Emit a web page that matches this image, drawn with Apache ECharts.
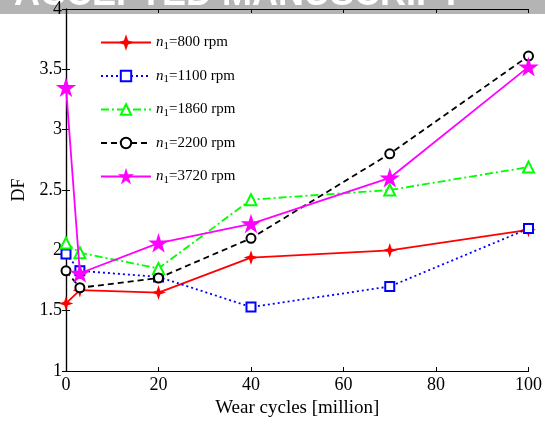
<!DOCTYPE html>
<html>
<head>
<meta charset="utf-8">
<script src="https://cdn.jsdelivr.net/npm/echarts@6/dist/echarts.min.js"></script>
<style>
  html, body { margin: 0; padding: 0; background: #fff; }
  #chart { width: 545px; height: 425px; }
</style>
</head>
<body>
<div id="chart"></div>
<script>
// Wear cycles (million) at which the damping factor was measured
var wearCycles = [0, 3, 20, 40, 70, 100];

// Damping factor per input speed
var df800  = [1.56, 1.67, 1.65, 1.94, 2.00, 2.17];
var df1100 = [1.97, 1.83, 1.78, 1.53, 1.70, 2.18];
var df1860 = [2.06, 1.98, 1.85, 2.42, 2.50, 2.69];
var df2200 = [1.83, 1.69, 1.77, 2.10, 2.80, 3.61];
var df3720 = [3.35, 1.81, 2.06, 2.22, 2.60, 3.52];

var speeds = ['800', '1100', '1860', '2200', '3720'];
var xTicks = [0, 20, 40, 60, 80, 100];
var yTicks = [1, 1.5, 2, 2.5, 3, 3.5, 4];

var serif = '"Liberation Serif", "DejaVu Serif", serif';

var starPath = 'path://M50,0 L61,35 L98,35 L68,57 L79,91 L50,70 L21,91 L32,57 L2,35 L39,35 Z';
var sparkPath = 'path://M0,-10 L2.5,-2.5 L10,0 L2.5,2.5 L0,10 L-2.5,2.5 L-10,0 L-2.5,-2.5 Z';

function pairs(ys) {
  return wearCycles.map(function (x, i) { return [x, ys[i]]; });
}

function seriesName(s) { return 'n1=' + s + ' rpm'; }

var defs = [
  { data: df800,  color: '#ff0000', type: 'solid',        symbol: sparkPath,       size: 9 },
  { data: df1100, color: '#0000ff', type: [2, 3],         symbol: 'emptyRect',     size: 9 },
  { data: df1860, color: '#00ff00', type: [8, 3, 2, 3],   symbol: 'emptyTriangle', size: 11 },
  { data: df2200, color: '#000000', type: [6, 4],         symbol: 'emptyCircle',   size: 9 },
  { data: df3720, color: '#ff00ff', type: 'solid',        symbol: starPath,        size: 15 }
];

var series = defs.map(function (d, i) {
  return {
    name: seriesName(speeds[i]),
    type: 'line',
    data: pairs(d.data),
    symbol: d.symbol,
    symbolSize: d.size,
    symbolKeepAspect: true,
    showAllSymbol: true,
    lineStyle: { color: d.color, width: 1.8, type: d.type },
    itemStyle: { color: d.color, borderColor: d.color, borderWidth: 1.8 },
    emphasis: { disabled: true },
    animation: false,
    z: 3 + i
  };
});

var chart = echarts.init(document.getElementById('chart'), null, { renderer: 'canvas' });

var boxAxis = {
  axisLine: { show: true, lineStyle: { color: '#000', width: 1.2 } },
  axisTick: { show: true, inside: true, length: 4, lineStyle: { color: '#000' } },
  splitLine: { show: false }
};

chart.setOption({
  backgroundColor: '#ffffff',
  animation: false,
  grid: { left: 66, right: 16, top: 8, bottom: 54, containLabel: false },
  graphic: [
    {
      type: 'rect', z: -10, silent: true,
      shape: { x: 0, y: 0, width: 545, height: 14 },
      style: { fill: '#b4b4b4' }
    },
    {
      type: 'text', z: -9, silent: true,
      x: 238, y: 13,
      style: {
        text: 'ACCEPTED MANUSCRIPT',
        fill: '#ffffff',
        font: 'bold 36px "Liberation Sans", Arial, sans-serif',
        align: 'center',
        verticalAlign: 'bottom'
      }
    }
  ],
  legend: {
    orient: 'vertical',
    left: 95,
    top: 30,
    itemWidth: 50,
    itemHeight: 13,
    itemGap: 17,
    selectedMode: false,
    data: speeds.map(seriesName),
    formatter: function (name) {
      var s = name.replace('n1=', '');
      return '{i|n}{s|1}{t|=' + s + '}';
    },
    textStyle: {
      color: '#000',
      fontFamily: serif,
      fontSize: 15,
      rich: {
        i: { fontFamily: serif, fontSize: 15, fontStyle: 'italic', color: '#000' },
        s: { fontFamily: serif, fontSize: 11, color: '#000', verticalAlign: 'bottom', padding: [7, 0, 0, 0] },
        t: { fontFamily: serif, fontSize: 15, color: '#000' }
      }
    }
  },
  xAxis: [
    Object.assign({
      type: 'value', position: 'bottom', min: xTicks[0], max: xTicks[xTicks.length - 1], interval: 20,
      name: 'Wear cycles [million]', nameLocation: 'middle', nameGap: 28,
      nameTextStyle: { fontFamily: serif, fontSize: 19, color: '#000' },
      axisLabel: { fontFamily: serif, fontSize: 18, color: '#000', margin: 5 }
    }, boxAxis),
    Object.assign({
      type: 'value', position: 'top', min: xTicks[0], max: xTicks[xTicks.length - 1], interval: 20,
      axisLabel: { show: false }
    }, boxAxis)
  ],
  yAxis: [
    Object.assign({
      type: 'value', position: 'left', min: yTicks[0], max: yTicks[yTicks.length - 1], interval: 0.5,
      name: 'DF', nameLocation: 'middle', nameGap: 32, nameRotate: 90,
      nameTextStyle: { fontFamily: serif, fontSize: 18, color: '#000' },
      axisLabel: { fontFamily: serif, fontSize: 18, color: '#000', margin: 4 }
    }, boxAxis),
    Object.assign({
      type: 'value', position: 'right', min: yTicks[0], max: yTicks[yTicks.length - 1], interval: 0.5,
      axisLabel: { show: false }
    }, boxAxis)
  ],
  series: series
});
</script>
</body>
</html>
